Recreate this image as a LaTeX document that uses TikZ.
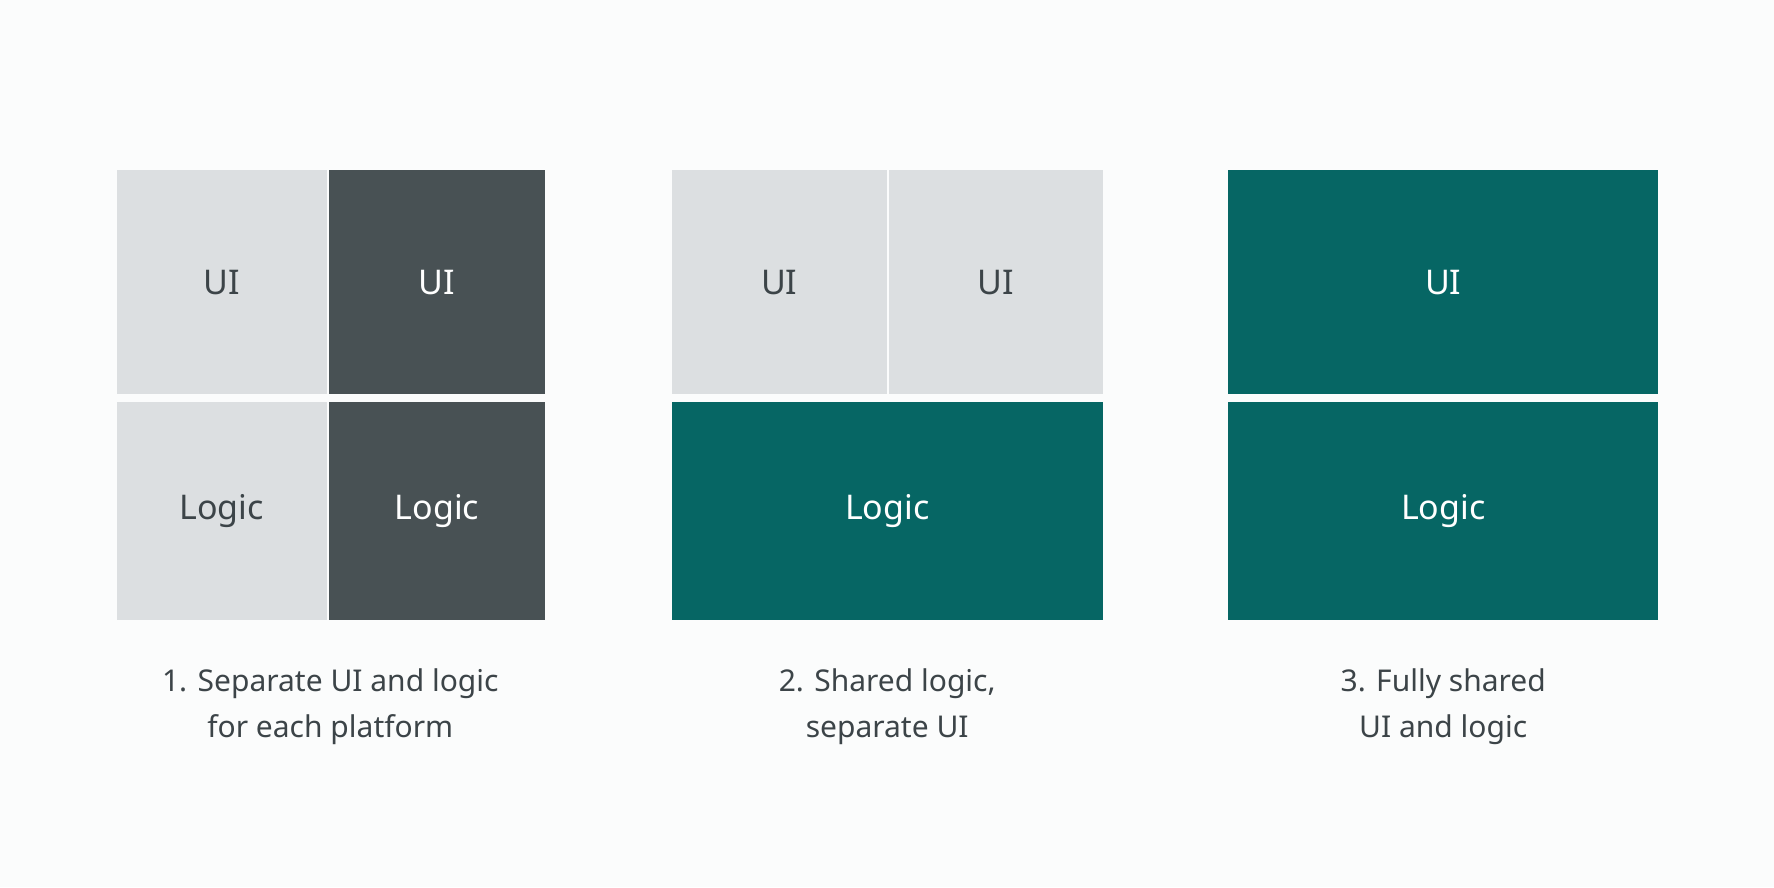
\documentclass[tikz,border=0pt]{standalone}
\usepackage{fontspec}
\setmainfont{Noto Sans}
\usepackage{xcolor}
\definecolor{bgc}{HTML}{FBFCFC}
\definecolor{lightc}{HTML}{DCDFE1}
\definecolor{darkc}{HTML}{485154}
\definecolor{tealc}{HTML}{066664}
\definecolor{textc}{HTML}{3C4448}
\begin{document}
\begin{tikzpicture}[x=1pt,y=1pt,yscale=-1,
  box/.style={draw=none,inner sep=0pt,font=\fontsize{34}{40}\selectfont},
  lightbox/.style={box,fill=lightc,text=textc},
  darkbox/.style={box,fill=darkc,text=white},
  tealbox/.style={box,fill=tealc,text=white},
  caption/.style={align=center,text=textc,font=\fontsize{30}{46}\selectfont}]
\fill[bgc] (0,0) rectangle (1774,887);

% panel 1
\path[lightbox] (116.5,169.6) rectangle (326.9,393.6);
\node[lightbox,fill=none] (uiA) at (221.7,282.8) {UI};
\path[darkbox] (329.1,169.6) rectangle (545.1,393.6);
\node[darkbox,fill=none] (uiB) at (437.1,282.8) {UI};
\path[lightbox] (116.5,401.5) rectangle (326.9,619.8);
\node[lightbox,fill=none] (logicA) at (221.7,511.2) {Logic};
\path[darkbox] (329.1,401.5) rectangle (545.1,619.8);
\node[darkbox,fill=none] (logicB) at (437.1,511.2) {Logic};
\node[caption] (capA) at (330.3,707) {1. Separate UI and logic\\for each platform};

% panel 2
\path[lightbox] (671.8,169.6) rectangle (886.7,393.6);
\node[lightbox,fill=none] (uiC) at (779.2,282.8) {UI};
\path[lightbox] (889,169.6) rectangle (1102.7,393.6);
\node[lightbox,fill=none] (uiD) at (995.9,282.8) {UI};
\path[tealbox] (671.8,401.5) rectangle (1102.7,619.8);
\node[tealbox,fill=none] (logicC) at (887.2,511.2) {Logic};
\node[caption] (capB) at (887.2,707) {2. Shared logic,\\separate UI};

% panel 3
\path[tealbox] (1228.3,169.6) rectangle (1658.1,393.6);
\node[tealbox,fill=none] (uiE) at (1443.2,282.8) {UI};
\path[tealbox] (1228.3,401.5) rectangle (1658.1,619.8);
\node[tealbox,fill=none] (logicE) at (1443.2,511.2) {Logic};
\node[caption] (capC) at (1443.2,707) {3. Fully shared\\UI and logic};
\end{tikzpicture}
\end{document}
